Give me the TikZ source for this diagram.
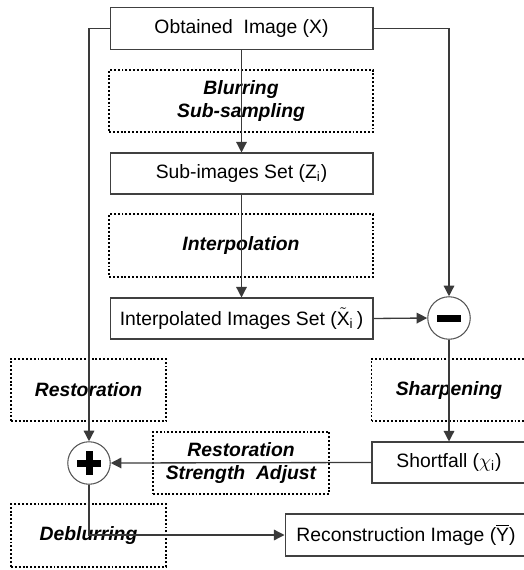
\documentclass[tikz,border=0pt]{standalone}
\usepackage{fontspec}
\setmainfont{Liberation Sans}
\usepackage{amsmath}
\usepackage{xcolor}
\definecolor{flowLine}{HTML}{3A3A3A}
\definecolor{flowEdge}{HTML}{404040}
\definecolor{ringGray}{HTML}{555555}
\usetikzlibrary{arrows.meta, positioning, calc}

\begin{document}
\begin{tikzpicture}[
  x=0.02cm, y=-0.02cm,
  every node/.style={font=\fontsize{11}{13}\selectfont, align=center, inner sep=0pt},
  imgbox/.style={draw=flowEdge, line width=0.6pt, minimum width=5.26cm, minimum height=0.84cm},
  opbox/.style={draw=black, line width=1.1pt, dash pattern=on 1.1pt off 1.1pt,
    minimum width=5.28cm, minimum height=1.25cm, font=\fontsize{11}{13}\selectfont\bfseries\itshape},
  sumnode/.style={circle, draw=ringGray, line width=0.6pt, minimum size=0.85cm},
  flow/.style={flowLine, line width=0.75pt, -{Triangle[length=6pt, width=6pt]}}
]
  \useasboundingbox (0,0) rectangle (523,570);

  % main column
  \node[imgbox] (obt) at (241.5,28.5) {Obtained\ \ Image ($\mathrm{X}$)};
  \node[opbox] (blur) at (241,101) {Blurring\\Sub-sampling};
  \node[imgbox, minimum height=0.82cm] (sub) at (241.5,173.5) {Sub-images Set ($\mathrm{Z_i}$)};
  \node[opbox] (interp) at (241,245.5) {Interpolation};
  \node[imgbox, minimum height=0.82cm] (intimg) at (241.5,318.5)
    {Interpolated Images Set ($\tilde{\mathrm{X}}_{\mathrm{i}}\,$)};

  % difference and sum
  \node[sumnode] (minus) at (449,318) {};
  \fill (minus.center) ++(-12,-3.5) rectangle ++(24,7);
  \node[sumnode] (plus) at (89,463) {};
  \fill (plus.center) ++(-12,-3.5) rectangle ++(24,7);
  \fill (plus.center) ++(-3.5,-12) rectangle ++(7,24);

  % lower part
  \node[opbox, minimum width=3.1cm] (restore) at (88.5,390) {Restoration};
  \node[opbox, minimum width=3.1cm] (sharp) at (449,390) {Sharpening};
  \node[opbox, minimum width=3.52cm] (adjust) at (241,463) {Restoration\\Strength\ \ Adjust};
  \node[imgbox, minimum width=3.08cm, minimum height=0.82cm] (short) at (449,462.5) {Shortfall ($\chi_{\mathrm{i}}$)};
  \node[opbox, minimum width=3.1cm] (deblur) at (88.5,535.5) {Deblurring};
  \node[imgbox, minimum width=4.84cm] (recon) at (406,535) {Reconstruction Image ($\overline{\mathrm{Y}}$)};

  % connectors
  \draw[flow] (obt.west) -| (plus.north);
  \draw[flow] (obt.east) -| (minus.north);
  \draw[flow] (obt.south) -- (sub.north);
  \draw[flow] (sub.south) -- (intimg.north);
  \draw[flow] (intimg.east) -- (minus.west);
  \draw[flow] (minus.south) -- (short.north);
  \draw[flow] (short.west) -- (plus.east);
  \draw[flow] (plus.south) |- (recon.west);
\end{tikzpicture}
\end{document}
